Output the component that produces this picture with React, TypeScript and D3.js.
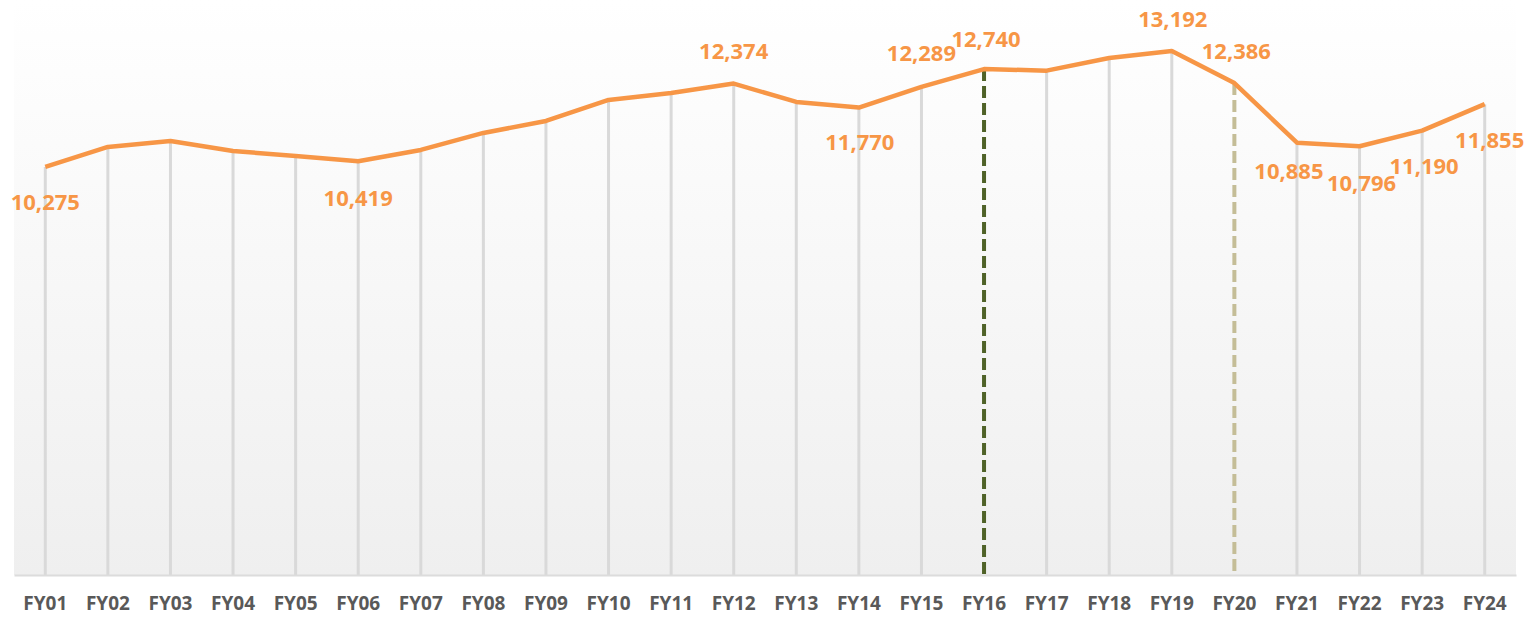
import { useRef, useEffect } from "react";
import * as d3 from "d3";

const years = [
  "FY01", "FY02", "FY03", "FY04", "FY05", "FY06", "FY07", "FY08", "FY09", "FY10", "FY11", "FY12",
  "FY13", "FY14", "FY15", "FY16", "FY17", "FY18", "FY19", "FY20", "FY21", "FY22", "FY23", "FY24",
];
const values = [
  10275, 10778, 10929, 10677, 10552, 10419, 10703, 11131, 11433, 11962, 12138, 12374,
  11911, 11770, 12289, 12740, 12700, 13019, 13192, 12386, 10885, 10796, 11190, 11855,
];
// which points carry a value label
const labelled = ["FY01", "FY06", "FY12", "FY14", "FY15", "FY16", "FY19", "FY20", "FY21", "FY22", "FY23", "FY24"];
const markerYears = ["FY16", "FY20"];

const WIDTH = 1527;
const HEIGHT = 618;
const PLOT = { left: 14, right: 1516, top: 19, bottom: 575 };
const ORANGE = "#F79646";

// label placement [dx, dy] relative to the point
const LABEL_OFFSET: Record<string, [number, number]> = {
  FY01: [0, 34], FY06: [0, 36], FY12: [0, -34], FY14: [1, 33], FY15: [0, -35], FY16: [2, -31],
  FY19: [1, -33], FY20: [2, -33], FY21: [-8, 27], FY22: [2, 36], FY23: [2, 34], FY24: [5, 35],
};
const MARKER_COLOR: Record<string, string> = { FY16: "#4F6228", FY20: "#C4BD97" };

export default function App() {
  const svgRef = useRef<SVGSVGElement>(null);

  useEffect(() => {
    const svg = d3.select(svgRef.current);
    svg.selectAll("*").remove();

    const data = years.map((y, i) => ({ year: y, value: values[i] }));
    const x = d3.scaleBand().domain(years).range([PLOT.left, PLOT.right]);
    const cx = (d: string) => (x(d) ?? 0) + x.bandwidth() / 2;
    const y = d3.scaleLinear().domain([0, 14000]).range([PLOT.bottom, PLOT.top]);

    // background gradient
    const grad = svg.append("defs").append("linearGradient")
      .attr("id", "bg").attr("x1", 0).attr("y1", 0).attr("x2", 0).attr("y2", 1);
    grad.append("stop").attr("offset", "0%").attr("stop-color", "#ffffff");
    grad.append("stop").attr("offset", "100%").attr("stop-color", "#efefef");
    svg.append("rect")
      .attr("x", PLOT.left).attr("y", 0)
      .attr("width", PLOT.right - PLOT.left).attr("height", PLOT.bottom)
      .attr("fill", "url(#bg)");

    // drop lines
    svg.append("g").selectAll("line")
      .data(data.filter((d) => !markerYears.includes(d.year)))
      .join("line")
      .attr("x1", (d) => cx(d.year)).attr("x2", (d) => cx(d.year))
      .attr("y1", (d) => y(d.value)).attr("y2", PLOT.bottom)
      .attr("stroke", "#d9d9d9").attr("stroke-width", 3);

    // dashed markers
    svg.append("g").selectAll("line")
      .data(data.filter((d) => markerYears.includes(d.year)))
      .join("line")
      .attr("x1", (d) => cx(d.year)).attr("x2", (d) => cx(d.year))
      .attr("y1", (d) => y(d.value)).attr("y2", PLOT.bottom)
      .attr("stroke", (d) => MARKER_COLOR[d.year]).attr("stroke-width", 4)
      .attr("stroke-dasharray", "12,5");

    // baseline + x axis
    svg.append("g")
      .attr("transform", `translate(0,${PLOT.bottom})`)
      .call(d3.axisBottom(x).tickSize(0).tickPadding(22))
      .call((a) => a.select(".domain").attr("stroke", "#dcdcdc").attr("stroke-width", 2))
      .call((a) => a.selectAll("text")
        .attr("fill", "#595959").attr("font-size", "19px").attr("font-weight", 700)
        .attr("font-family", "'Open Sans', sans-serif"));

    // line
    const line = d3.line<(typeof data)[0]>()
      .x((d) => cx(d.year))
      .y((d) => y(d.value));
    svg.append("path")
      .datum(data)
      .attr("fill", "none")
      .attr("stroke", ORANGE)
      .attr("stroke-width", 4.5)
      .attr("stroke-linejoin", "round")
      .attr("d", line);

    // value labels
    svg.append("g").selectAll("text")
      .data(data.filter((d) => labelled.includes(d.year)))
      .join("text")
      .attr("x", (d) => cx(d.year) + LABEL_OFFSET[d.year][0])
      .attr("y", (d) => y(d.value) + LABEL_OFFSET[d.year][1])
      .attr("text-anchor", "middle")
      .attr("dominant-baseline", "central")
      .attr("fill", ORANGE)
      .attr("font-size", "22px")
      .attr("font-weight", 700)
      .attr("font-family", "'Open Sans', sans-serif")
      .text((d) => d3.format(",")(d.value));
  }, []);

  return (
    <svg
      ref={svgRef}
      width={WIDTH}
      height={HEIGHT}
      style={{ position: "absolute", left: 0, top: 0, display: "block", background: "#fff" }}
    />
  );
}
